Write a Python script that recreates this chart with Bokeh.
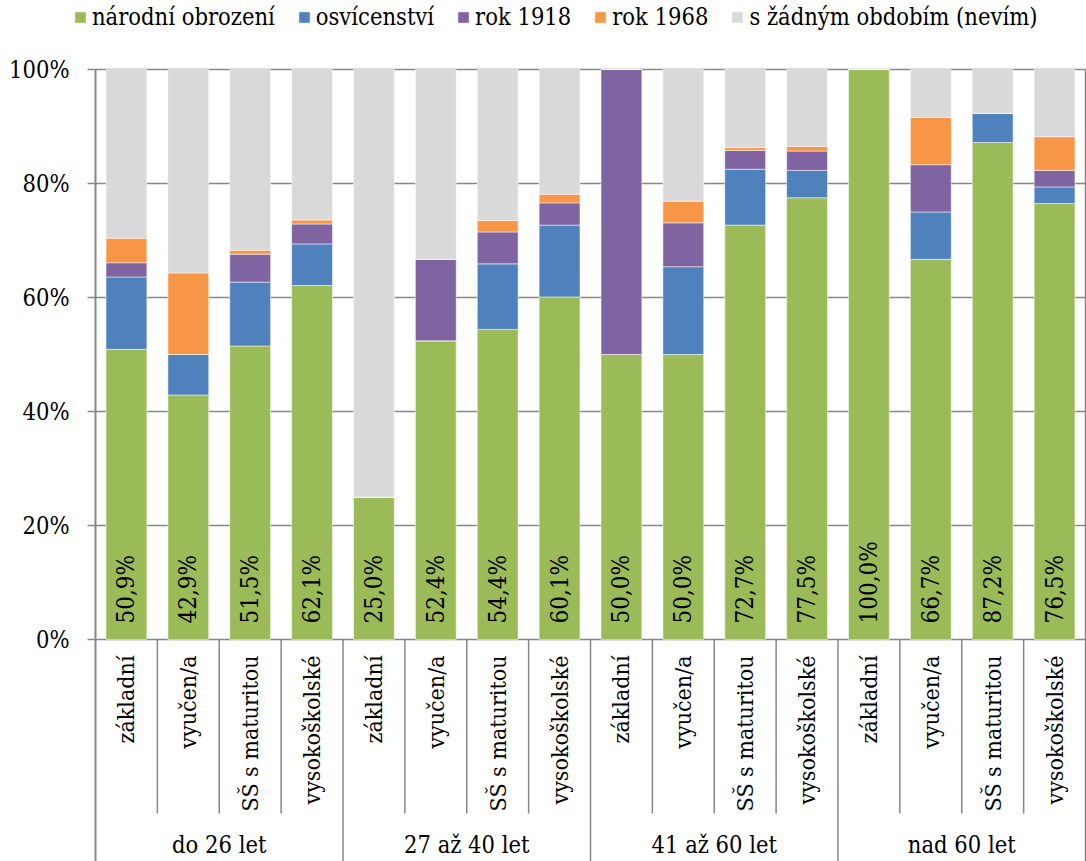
import math
from bokeh.plotting import figure
from bokeh.models import Range1d, FixedTicker, PrintfTickFormatter, Legend, LegendItem, ColumnDataSource
from bokeh.core.properties import value
from bokeh.embed import file_html
from bokeh.resources import INLINE

# ---------------- data ----------------
groups = ["do 26 let", "27 až 40 let", "41 až 60 let", "nad 60 let"]
education = ["základní", "vyučen/a", "SŠ s maturitou", "vysokoškolské"]
series = ["národní obrození", "osvícenství", "rok 1918", "rok 1968", "s žádným obdobím (nevím)"]
colors = ["#9BBB59", "#4F81BD", "#8064A2", "#F79646", "#D9D9D9"]

narodni_obrozeni = [50.9, 42.9, 51.5, 62.1, 25.0, 52.4, 54.4, 60.1, 50.0, 50.0, 72.7, 77.5, 100.0, 66.7, 87.2, 76.5]
osvicenstvi      = [12.7, 7.1, 11.2, 7.3, 0.0, 0.0, 11.5, 12.6, 0.0, 15.4, 9.8, 4.8, 0.0, 8.3, 5.1, 2.9]
rok_1918         = [2.5, 0.0, 4.9, 3.5, 0.0, 14.3, 5.6, 3.9, 50.0, 7.7, 3.3, 3.4, 0.0, 8.3, 0.0, 2.9]
rok_1968         = [4.3, 14.3, 0.7, 0.7, 0.0, 0.0, 2.0, 1.5, 0.0, 3.8, 0.5, 0.8, 0.0, 8.3, 0.0, 5.9]
zadne_obdobi     = [29.6, 35.7, 31.7, 26.4, 75.0, 33.3, 26.5, 21.9, 0.0, 23.1, 13.7, 13.5, 0.0, 8.4, 7.7, 11.8]

y_ticks = [0, 20, 40, 60, 80, 100]

# ---------------- layout constants ----------------
FONT = "DejaVu Serif Condensed"
GRID = "#878787"
W, H = 1086, 861
FRAME_LEFT = 72
PX_PER_X = 61.875          # pixels per category
PX_PER_PCT = 5.7           # pixels per percent
Y_TOP = 100 + 69 / PX_PER_PCT
Y_BOTTOM = -(H - 639) / PX_PER_PCT

n = len(groups) * len(education)
X_START = -(95 - FRAME_LEFT) / PX_PER_X
X_END = X_START + (W - FRAME_LEFT) / PX_PER_X

xs = [i + 0.5 for i in range(n)]
cat_labels = [e for g in groups for e in education]
value_labels = [("%.1f" % v).replace(".", ",") + "%" for v in narodni_obrozeni]

keys = ["s0", "s1", "s2", "s3", "s4"]
src = ColumnDataSource(dict(x=xs, s0=narodni_obrozeni, s1=osvicenstvi, s2=rok_1918,
                            s3=rok_1968, s4=zadne_obdobi, lab=value_labels, cat=cat_labels))

p = figure(width=W, height=H, output_backend="svg", toolbar_location=None,
           x_range=Range1d(X_START, X_END), y_range=Range1d(Y_BOTTOM, Y_TOP),
           min_border_left=FRAME_LEFT, min_border_right=0, min_border_top=0, min_border_bottom=0)
p.outline_line_color = None
p.background_fill_color = "white"
p.border_fill_color = "white"

p.xaxis.visible = False
p.xgrid.visible = False
p.ygrid.visible = False

yax = p.yaxis[0]
yax.ticker = FixedTicker(ticks=y_ticks)
yax.formatter = PrintfTickFormatter(format="%d%%")
yax.axis_line_color = None
yax.major_tick_line_color = None
yax.major_tick_out = 0
yax.major_tick_in = 0
yax.minor_tick_line_color = None
yax.major_label_standoff = 3
yax.major_label_text_font = FONT
yax.major_label_text_font_size = "23.5px"
yax.major_label_text_color = "black"

# gridlines with their outside tick marks
tick_len = 8 / PX_PER_X
p.segment(x0=[-tick_len] * len(y_ticks), y0=y_ticks, x1=[n] * len(y_ticks), y1=y_ticks,
          line_color=GRID, line_width=1.5)

# stacked bars
rs = p.vbar_stack(keys, x="x", width=0.66, source=src, fill_color=colors,
                  line_color="white", line_alpha=0.5, line_width=1)

# category separators / frame lines
inner = [i for i in range(1, n) if i % len(education) != 0]
outer = [i for i in range(len(education), n, len(education))]
p.segment(x0=inner, y0=[0] * len(inner), x1=inner, y1=[-(813 - 639) / PX_PER_PCT] * len(inner),
          line_color=GRID, line_width=1.5)
p.segment(x0=outer, y0=[0] * len(outer), x1=outer, y1=[Y_BOTTOM] * len(outer),
          line_color=GRID, line_width=1.5)
p.segment(x0=[0], y0=[100], x1=[0], y1=[Y_BOTTOM], line_color=GRID, line_width=2)
p.segment(x0=[n], y0=[100], x1=[n], y1=[Y_BOTTOM], line_color=GRID, line_width=1.5)

# value labels inside the green bars
p.text(x="x", y=16 / PX_PER_PCT, text="lab", source=src, angle=math.pi / 2, text_align="left",
       text_baseline="middle", text_font=value(FONT), text_font_size="24px", text_color="black")

# education labels
p.text(x="x", y=-16 / PX_PER_PCT, text="cat", source=src, angle=math.pi / 2, text_align="right",
       text_baseline="middle", text_font=value(FONT), text_font_size="23px", text_color="black")

# age-group labels
gx = [len(education) * (k + 0.5) for k in range(len(groups))]
p.text(x=gx, y=[-(844 - 639) / PX_PER_PCT] * len(groups), text=groups, text_align="center",
       text_baseline="middle", text_font=value(FONT), text_font_size="23.5px", text_color="black")

legend = Legend(items=[LegendItem(label=s, renderers=[r]) for s, r in zip(series, rs)],
                orientation="horizontal", location=(1, 830),
                glyph_width=14, glyph_height=14, label_standoff=5, spacing=22,
                padding=0, margin=0, border_line_alpha=0, background_fill_alpha=0,
                label_text_font=FONT, label_text_font_size="23.5px", label_text_color="black")
p.add_layout(legend)

open("out.html", "w").write(file_html(p, INLINE))
